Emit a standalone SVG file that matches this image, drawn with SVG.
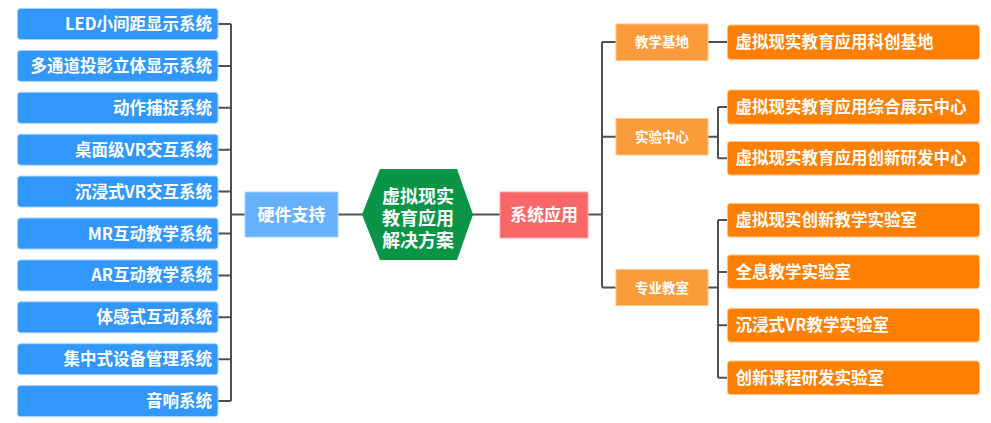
<svg xmlns="http://www.w3.org/2000/svg" width="991" height="423" viewBox="0 0 991 423">
<style>
text{font-family:"Noto Sans CJK SC","Noto Sans",sans-serif;font-weight:bold;fill:#fff}
.hw rect{fill:#3297fa;stroke:#a9d2fb;stroke-width:1}
.hw text{font-size:16.5px;text-anchor:end}
.mid rect{fill:#fc9b3a;stroke:#fdc48e;stroke-width:1}
.mid text{font-size:13.5px;text-anchor:middle}
.leaf rect{fill:#ff8000;stroke:#ffc080;stroke-width:1}
.leaf text{font-size:16.5px}
.hex text{font-size:18px;text-anchor:middle}
.conn path{fill:none;stroke:#505050;stroke-width:2}
</style>
<rect width="991" height="423" fill="#fff"/>
<g class="conn">
<path d="M218 24H231M218 65.9H231M218 107.8H231M218 149.7H231M218 191.6H231M218 233.5H231M218 275.4H231M218 317.3H231M218 359.2H231M218 401.1H231M231 24V401.1M231 214.5H245"/>
<path d="M338 214.5H363M472 214.5H500M588 214.5H602"/>
<path d="M602 42V287.5M602 42H616M602 136.7H616M602 287.5H616"/>
<path d="M708 42H727"/>
<path d="M708 136.7H718M718 107V158.3M718 107H727M718 158.3H727"/>
<path d="M708 287.5H718M718 220V377.7M718 220H727M718 272H727M718 325.3H727M718 377.7H727"/>
</g>
<g id="hw1" class="hw"><rect x="17.5" y="8.5" width="200.5" height="31" rx="3"/><text x="212" y="30">LED小间距显示系统</text></g>
<g id="hw2" class="hw"><rect x="17.5" y="50.4" width="200.5" height="31" rx="3"/><text x="212" y="71.9">多通道投影立体显示系统</text></g>
<g id="hw3" class="hw"><rect x="17.5" y="92.3" width="200.5" height="31" rx="3"/><text x="212" y="113.8">动作捕捉系统</text></g>
<g id="hw4" class="hw"><rect x="17.5" y="134.2" width="200.5" height="31" rx="3"/><text x="212" y="155.7">桌面级VR交互系统</text></g>
<g id="hw5" class="hw"><rect x="17.5" y="176.1" width="200.5" height="31" rx="3"/><text x="212" y="197.6">沉浸式VR交互系统</text></g>
<g id="hw6" class="hw"><rect x="17.5" y="218" width="200.5" height="31" rx="3"/><text x="212" y="239.5">MR互动教学系统</text></g>
<g id="hw7" class="hw"><rect x="17.5" y="259.9" width="200.5" height="31" rx="3"/><text x="212" y="281.4">AR互动教学系统</text></g>
<g id="hw8" class="hw"><rect x="17.5" y="301.8" width="200.5" height="31" rx="3"/><text x="212" y="323.3">体感式互动系统</text></g>
<g id="hw9" class="hw"><rect x="17.5" y="343.7" width="200.5" height="31" rx="3"/><text x="212" y="365.2">集中式设备管理系统</text></g>
<g id="hw10" class="hw"><rect x="17.5" y="385.6" width="200.5" height="31" rx="3"/><text x="212" y="407.1">音响系统</text></g>
<g id="hardware"><rect x="245" y="192" width="93" height="45" fill="#66b1ff" stroke="#a8d3ff" stroke-width="1"/><text x="291.5" y="220.5" font-size="17" text-anchor="middle">硬件支持</text></g>
<g id="center" class="hex"><polygon points="380,169 457,169 473,214.5 457,260 380,260 362,214.5" fill="#0a9447"/>
<text x="418" y="203">虚拟现实</text>
<text x="418" y="225">教育应用</text>
<text x="418" y="247">解决方案</text></g>
<g id="apps"><rect x="500" y="192" width="88" height="46" fill="#f96667" stroke="#fca5a5" stroke-width="1"/><text x="544" y="221" font-size="17" text-anchor="middle">系统应用</text></g>
<g id="mid1" class="mid"><rect x="616" y="24" width="92" height="36.5"/><text x="662" y="47">教学基地</text></g>
<g id="mid2" class="mid"><rect x="616" y="118.5" width="92" height="36.5"/><text x="662" y="141.5">实验中心</text></g>
<g id="mid3" class="mid"><rect x="616" y="269.5" width="92" height="36"/><text x="662" y="292.5">专业教室</text></g>
<g id="leaf1" class="leaf"><rect x="727.5" y="25" width="252" height="34.5" rx="3"/><text x="735.5" y="48">虚拟现实教育应用科创基地</text></g>
<g id="leaf2" class="leaf"><rect x="727.5" y="90" width="252" height="34" rx="3"/><text x="735.5" y="113">虚拟现实教育应用综合展示中心</text></g>
<g id="leaf3" class="leaf"><rect x="727.5" y="141.5" width="252" height="33.5" rx="3"/><text x="735.5" y="164">虚拟现实教育应用创新研发中心</text></g>
<g id="leaf4" class="leaf"><rect x="727.5" y="203.5" width="252" height="33.5" rx="3"/><text x="735.5" y="226">虚拟现实创新教学实验室</text></g>
<g id="leaf5" class="leaf"><rect x="727.5" y="255" width="252" height="33.5" rx="3"/><text x="735.5" y="277.5">全息教学实验室</text></g>
<g id="leaf6" class="leaf"><rect x="727.5" y="308.5" width="252" height="33.5" rx="3"/><text x="735.5" y="331">沉浸式VR教学实验室</text></g>
<g id="leaf7" class="leaf"><rect x="727.5" y="361" width="252" height="33.5" rx="3"/><text x="735.5" y="383.5">创新课程研发实验室</text></g>
</svg>
